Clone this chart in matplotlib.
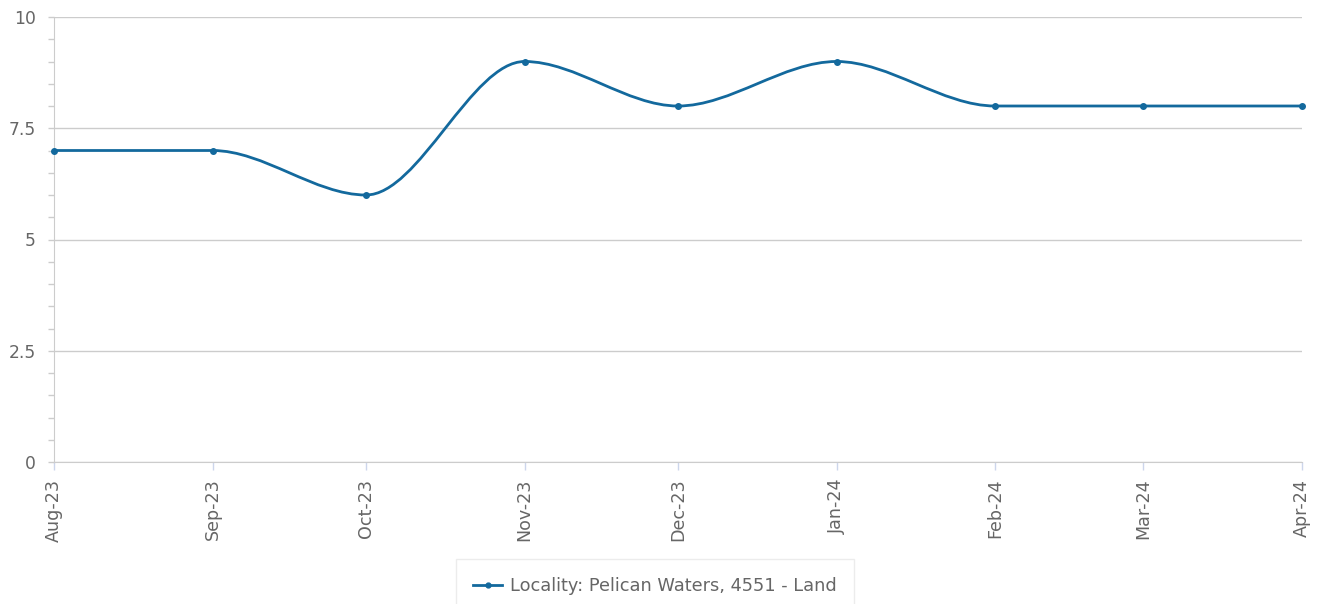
import numpy as np
import matplotlib
matplotlib.use("Agg")
import matplotlib.pyplot as plt
import matplotlib.dates as mdates
from matplotlib.path import Path
from matplotlib.patches import PathPatch
from matplotlib.lines import Line2D
from matplotlib.ticker import MultipleLocator, FuncFormatter
import datetime as dt

plt.rcParams["font.family"] = ["DejaVu Sans"]

# ---- data ----
months = ["2023-08-01", "2023-09-01", "2023-10-01", "2023-11-01", "2023-12-01",
          "2024-01-01", "2024-02-01", "2024-03-01", "2024-04-01"]
values = [7, 7, 6, 9, 8, 9, 8, 8, 8]
series_name = "Locality: Pelican Waters, 4551 - Land"

LINE = "#13699d"
GRID = "#cccccc"
TXT = "#666666"

x = mdates.date2num([dt.datetime.strptime(m, "%Y-%m-%d") for m in months])
y = np.array(values, dtype=float)

fig = plt.figure(figsize=(13.22, 6.04), dpi=100)
ax = fig.add_axes([54/1322, 1 - 462/604, (1302-54)/1322, (462-17)/604])

# monotone cubic (d3 monotoneX style) tangents
def monotone_tangents(x, y):
    n = len(x)
    h = np.diff(x)
    s = np.diff(y) / h
    t = np.zeros(n)
    for i in range(1, n - 1):
        if s[i-1] * s[i] <= 0:
            t[i] = 0.0
        else:
            p = (s[i-1] * h[i] + s[i] * h[i-1]) / (h[i-1] + h[i])
            t[i] = (np.sign(s[i-1]) + np.sign(s[i])) * min(abs(s[i-1]), abs(s[i]), 0.5 * abs(p))
    t[0] = (3 * s[0] - t[1]) / 2
    t[-1] = (3 * s[-1] - t[-2]) / 2
    if s[0] == 0: t[0] = 0
    if s[-1] == 0: t[-1] = 0
    return t

t = monotone_tangents(x, y)
verts = [(x[0], y[0])]
codes = [Path.MOVETO]
for i in range(len(x) - 1):
    dx = (x[i+1] - x[i]) / 3
    verts += [(x[i] + dx, y[i] + dx * t[i]), (x[i+1] - dx, y[i+1] - dx * t[i+1]), (x[i+1], y[i+1])]
    codes += [Path.CURVE4] * 3
patch = PathPatch(Path(verts, codes), facecolor="none", edgecolor=LINE, lw=2.0,
                  capstyle="round", joinstyle="round", zorder=3, clip_on=False)
ax.add_patch(patch)
ax.plot(x, y, linestyle="none", marker="o", markersize=4, color=LINE, zorder=4, clip_on=False)

ax.set_xlim(x[0], x[-1])
ax.set_ylim(0, 10)
ax.set_xticks(x)
ax.set_xticklabels([dt.datetime.strptime(m, "%Y-%m-%d").strftime("%b-%y") for m in months])
ax.yaxis.set_major_locator(MultipleLocator(2.5))
ax.yaxis.set_minor_locator(MultipleLocator(0.5))
ax.yaxis.set_major_formatter(FuncFormatter(lambda v, p: ("%g" % v)))

for sp in ["top", "right"]:
    ax.spines[sp].set_visible(False)
ax.spines["left"].set_color(GRID)
ax.spines["bottom"].set_color(GRID)

ax.grid(axis="y", which="major", color=GRID, linewidth=1)
ax.set_axisbelow(True)

ax.tick_params(axis="y", which="both", direction="out", length=4.5, width=1, color=GRID,
               labelcolor=TXT, labelsize=12.3, pad=8.5)
ax.tick_params(axis="x", which="major", direction="out", length=6, width=1, color="#ccd6eb",
               labelcolor=TXT, labelsize=12.6, pad=6)
for lbl in ax.get_xticklabels():
    lbl.set_rotation(90)
    lbl.set_ha("center")
    lbl.set_va("top")

handle = Line2D([0], [0], color=LINE, lw=2, marker="o", markersize=3.5)
leg = fig.legend([handle], [series_name], loc="upper center",
                 bbox_to_anchor=(655/1322, 1 - 559/604), frameon=True, fancybox=False,
                 edgecolor="#e8e8e8", fontsize=12.8, handlelength=1.6, handletextpad=0.45,
                 borderpad=1.0, borderaxespad=0)
for txt in leg.get_texts():
    txt.set_color(TXT)

fig.savefig("out.png", dpi=100)
